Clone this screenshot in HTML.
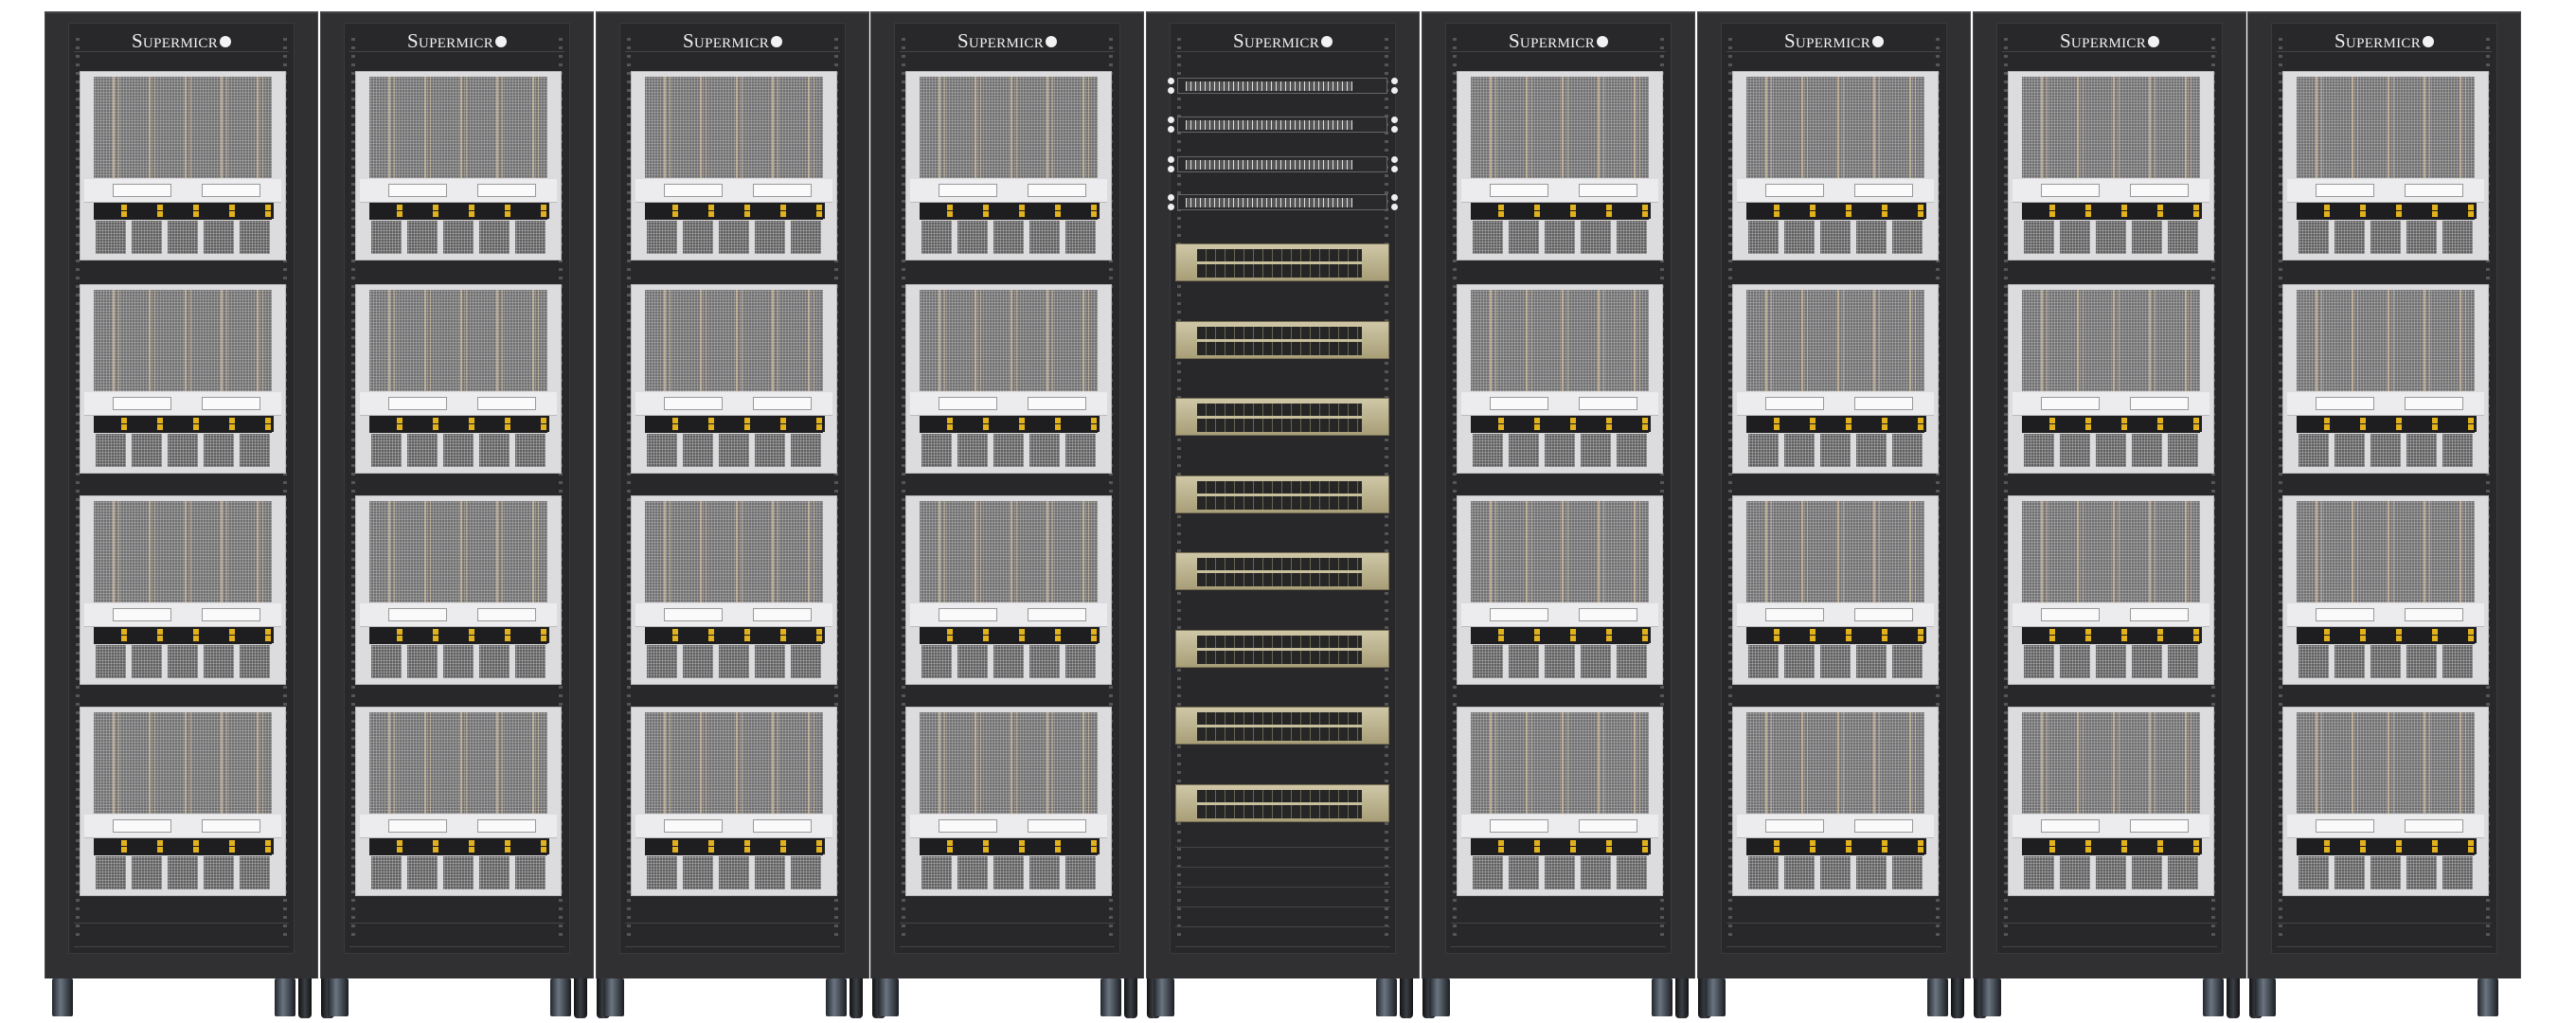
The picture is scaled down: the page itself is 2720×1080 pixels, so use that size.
<!DOCTYPE html>
<html><head><meta charset="utf-8">
<style>
html,body{margin:0;padding:0;background:#fff;}
body{width:2720px;height:1080px;position:relative;overflow:hidden;font-family:"Liberation Serif",serif;}
.rack{position:absolute;top:12px;width:289px;height:1021px;background:#303033;border-left:1px solid #4a4a4d;border-right:1px solid #4a4a4d;box-sizing:border-box;border-top:2px solid #45454a;}
.inner{position:absolute;left:24px;right:24px;top:10px;bottom:26px;background:#28282b;border:1px solid #3a3a3e;}
.logo{position:absolute;left:0;right:0;top:17px;text-align:center;color:#f2f2f2;font-size:21px;letter-spacing:0.3px;font-variant:small-caps;}
.logo b{display:inline-block;width:12px;height:12px;border-radius:50%;background:#f2f2f2;margin-left:2px;vertical-align:0px;}
.rail{position:absolute;top:20px;bottom:40px;width:4px;background:repeating-linear-gradient(#28282b 0 6px,#555 6px 9px);}
.blank{position:absolute;height:1px;background:#444449;}
.srv{position:absolute;width:218px;height:200px;background:#dcdcde;border:1px solid #bbb;box-sizing:border-box;}
.grille{position:absolute;left:14px;right:14px;top:5px;height:107px;background:
 repeating-linear-gradient(90deg,transparent 0 20px,rgba(215,190,155,.7) 20px 22px,transparent 22px 26px,rgba(215,190,155,.55) 26px 27px,transparent 27px 38px),
 radial-gradient(circle,#a8a8a8 1px,#606062 1.4px) 0 0/3px 3px;}
.io{position:absolute;left:4px;right:4px;top:113px;height:24px;background:#ececee;border-bottom:1px solid #bbb;}
.io::before{content:"";position:absolute;left:30px;top:5px;width:60px;height:12px;background:#fafafa;border:1px solid #999;}
.io::after{content:"";position:absolute;right:22px;top:5px;width:60px;height:12px;background:#fafafa;border:1px solid #999;}
.drvrow{position:absolute;left:14px;right:14px;top:138px;height:18px;background:#1e1e20;}
.drv{position:absolute;top:138px;height:17px;width:36px;background:#1e1e20;}
.drv i{position:absolute;right:3px;width:6px;height:6px;background:#e2b21e;}
.fan{position:absolute;top:157px;height:35px;width:32px;background:radial-gradient(circle,#a6a6a6 1px,#4c4c4e 1.4px) 0 0/3px 3px;}
.sw{position:absolute;left:32px;width:222px;height:17px;background:#2a2a2d;border:1px solid #666;box-sizing:border-box;}
.sw::before{content:"";position:absolute;left:8px;right:36px;top:3px;height:10px;background:repeating-linear-gradient(90deg,#e0e0e0 0 1px,#555 1px 5px);}
.dot{position:absolute;width:7px;height:7px;border-radius:50%;background:#eee;}
.gsw{position:absolute;left:30px;width:226px;height:40px;background:linear-gradient(#cfc7a6,#a89e78);box-sizing:border-box;border:1px solid #7a7257;}
.gsw::before{content:"";position:absolute;left:22px;right:28px;top:5px;height:30px;background:
 linear-gradient(transparent 13px,#c8bf9c 13px 16px,transparent 16px),
 repeating-linear-gradient(90deg,#262626 0 9px,#6a6550 9px 10px);}
.wheel{position:absolute;top:1033px;width:22px;height:40px;background:linear-gradient(90deg,#22262c,#6a7480 40%,#1b1e22);border-radius:2px;}
.foot{position:absolute;top:1033px;width:14px;height:42px;background:linear-gradient(90deg,#111,#3a3f46 50%,#111);border-radius:0 0 4px 4px;}
</style></head><body>
<div id="c"></div>
<script>
var h='';
for(var r=0;r<9;r++){
 var x=Math.round(47+r*290.8);
 h+='<div class="rack" style="left:'+x+'px"><div class="inner"></div>';
 h+='<div class="logo">Supermicr<b></b></div>';
 h+='<div class="rail" style="left:32px"></div><div class="rail" style="right:32px"></div>';
 h+='<div class="blank" style="left:30px;right:30px;top:40px"></div>';
 if(r==4){
  var ys=[80,121,163,203];
  for(var i=0;i<4;i++){h+='<div class="sw" style="top:'+(ys[i]-12)+'px"></div><div class="dot" style="left:22px;top:'+(ys[i]-12)+'px"></div><div class="dot" style="left:22px;top:'+(ys[i]-2)+'px"></div><div class="dot" style="left:258px;top:'+(ys[i]-12)+'px"></div><div class="dot" style="left:258px;top:'+(ys[i]-2)+'px"></div>';}
  var gs=[255,337,418,500,581,663,744,826];
  for(var i=0;i<8;i++){h+='<div class="gsw" style="top:'+(gs[i]-12)+'px"></div>';}
  for(var y=880;y<1000;y+=21){h+='<div class="blank" style="left:30px;right:30px;top:'+y+'px"></div>';}
 } else {
  var sy=[73,298,521,744];
  for(var i=0;i<4;i++){
   var t=sy[i]-12;
   h+='<div class="srv" style="left:36px;top:'+t+'px"><div class="grille"></div><div class="io"></div><div class="drvrow"></div>';
   for(var d=0;d<5;d++){h+='<div class="drv" style="left:'+(16+d*38)+'px"><i style="top:2px"></i><i style="top:9px"></i></div>';}
   for(var f=0;f<5;f++){h+='<div class="fan" style="left:'+(16+f*38)+'px"></div>';}
   h+='</div>';
  }
  h+='<div class="blank" style="left:30px;right:30px;top:960px"></div><div class="blank" style="left:30px;right:30px;top:985px"></div>';
 }
 h+='</div>';
 h+='<div class="wheel" style="left:'+(x+8)+'px"></div><div class="wheel" style="left:'+(x+243)+'px"></div>';
 if(r<8){h+='<div class="foot" style="left:'+(x+268)+'px"></div><div class="foot" style="left:'+(x+292)+'px"></div>';}
}
document.getElementById('c').innerHTML=h;
</script>
</body></html>
